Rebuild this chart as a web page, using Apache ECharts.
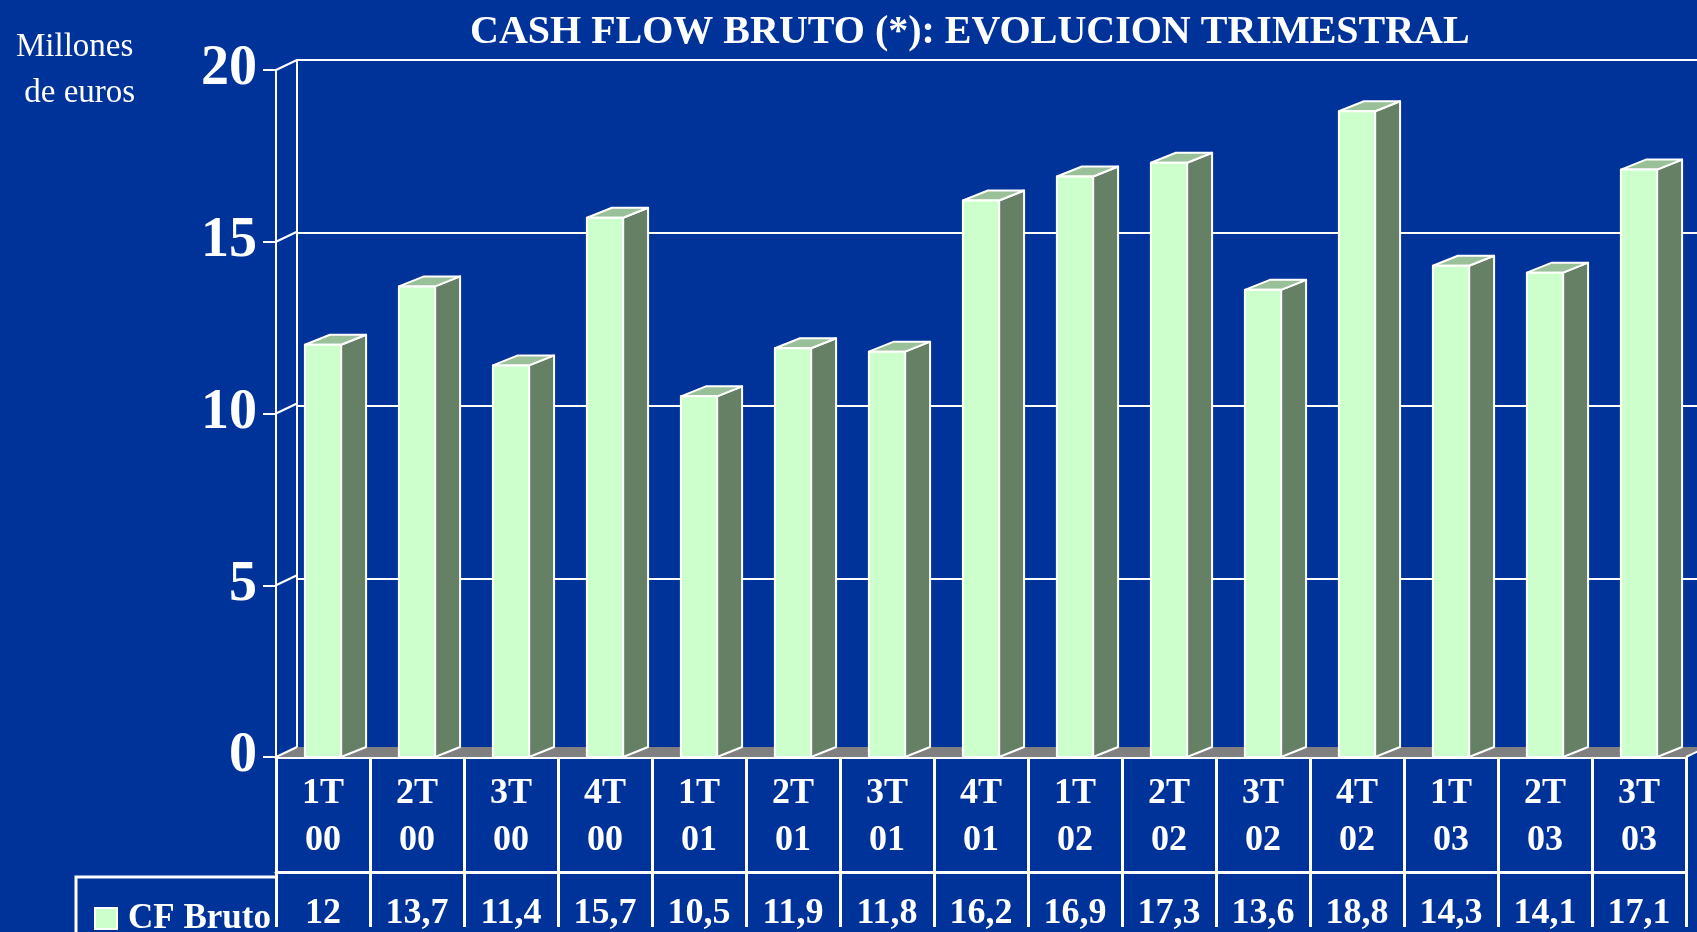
<!DOCTYPE html>
<html>
<head>
<meta charset="utf-8">
<script src="https://cdn.jsdelivr.net/npm/echarts@6/dist/echarts.min.js"></script>
<style>
html,body{margin:0;padding:0;background:#003399;}
#main{width:1697px;height:932px;}
</style>
</head>
<body>
<div id="main"></div>
<script>
const categories = ['1T\n00','2T\n00','3T\n00','4T\n00','1T\n01','2T\n01','3T\n01','4T\n01','1T\n02','2T\n02','3T\n02','4T\n02','1T\n03','2T\n03','3T\n03'];
const cfBruto = [12, 13.7, 11.4, 15.7, 10.5, 11.9, 11.8, 16.2, 16.9, 17.3, 13.6, 18.8, 14.3, 14.1, 17.1];
const yTicks = [0, 5, 10, 15, 20];
const valueLabels = cfBruto.map(v => String(v).replace('.', ','));

const FONT = "'Liberation Serif','Times New Roman',serif";
const WALL_DX = 21, WALL_DY = 10;
const BAR_DX = 25, BAR_DY = 10;
const BAR_FRAC = 0.385;

const chart = echarts.init(document.getElementById('main'), null, {renderer: 'canvas'});

function bandEdges(api) {
  const bw = api.size([1, 0])[0];
  const l = api.coord([0, 0])[0] - bw / 2;
  const r = api.coord([categories.length - 1, 0])[0] + bw / 2;
  return {l, r, bw};
}

const option = {
  backgroundColor: '#003399',
  animation: false,
  title: [
    {
      text: 'CASH FLOW BRUTO (*): EVOLUCION TRIMESTRAL',
      left: 465, top: 8,
      textStyle: {color: '#fff', fontFamily: FONT, fontWeight: 'bold', fontSize: 40, lineHeight: 40}
    },
    {
      text: 'Millones\n de euros',
      left: 11, top: 19,
      textStyle: {color: '#fff', fontFamily: FONT, fontWeight: 'normal', fontSize: 33, lineHeight: 46}
    }
  ],
  legend: {
    data: [{name: 'CF Bruto', icon: 'rect'}],
    left: 89, top: 896,
    itemWidth: 22, itemHeight: 21,
    selectedMode: false,
    itemStyle: {color: '#CCFFCC', borderColor: '#ffffff', borderWidth: 2},
    textStyle: {color: '#fff', fontFamily: FONT, fontWeight: 'bold', fontSize: 35, padding: [0, 0, 0, 6]}
  },
  grid: [
    {left: 276, top: 70, width: 1410, height: 692},
    {left: 297, top: 60, width: 1410, height: 692}
  ],
  xAxis: [
    {
      type: 'category', gridIndex: 0, data: categories, position: 'bottom',
      axisLine: {show: true, lineStyle: {color: '#fff', width: 3}},
      axisTick: {show: true, inside: false, length: 170, interval: 0, lineStyle: {color: '#fff', width: 3}},
      axisLabel: {show: true, interval: 0, color: '#fff', fontFamily: FONT, fontWeight: 'bold', fontSize: 36, lineHeight: 47, margin: 13},
      splitLine: {show: false}
    },
    {
      type: 'category', gridIndex: 0, data: valueLabels, position: 'bottom',
      axisLine: {show: false}, axisTick: {show: false},
      axisLabel: {show: true, interval: 0, color: '#fff', fontFamily: FONT, fontWeight: 'bold', fontSize: 36, margin: 139},
      splitLine: {show: false}
    },
    {
      type: 'category', gridIndex: 0, data: categories, position: 'bottom', offset: 115,
      axisLine: {show: true, lineStyle: {color: '#fff', width: 3}},
      axisTick: {show: false}, axisLabel: {show: false}, splitLine: {show: false}
    },
    {
      type: 'category', gridIndex: 1, data: categories, show: false
    }
  ],
  yAxis: [
    {
      type: 'value', gridIndex: 0, min: 0, max: 20, interval: 5,
      axisLine: {show: true, lineStyle: {color: '#fff', width: 2}},
      axisTick: {show: true, inside: false, length: 13, lineStyle: {color: '#fff', width: 2}},
      axisLabel: {show: true, color: '#fff', fontFamily: FONT, fontWeight: 'bold', fontSize: 56, margin: 19},
      splitLine: {show: false}
    },
    {
      type: 'value', gridIndex: 1, min: 0, max: 20, interval: 5,
      axisLine: {show: true, lineStyle: {color: '#fff', width: 2}},
      axisTick: {show: false}, axisLabel: {show: false},
      splitLine: {show: true, lineStyle: {color: '#fff', width: 2, type: 'solid'}}
    }
  ],
  graphic: [
    {
      type: 'polyline', z: 10,
      shape: {points: [[76, 932], [76, 877], [276, 877]]},
      style: {stroke: '#fff', lineWidth: 3, fill: null}
    }
  ],
  series: [
    {
      name: 'floor', type: 'custom', xAxisIndex: 0, yAxisIndex: 0, z: 1,
      silent: true, data: [[0, 0]],
      renderItem: function (params, api) {
        const e = bandEdges(api);
        const y = api.coord([0, 0])[1];
        return {
          type: 'group',
          children: [
            {type: 'polygon', shape: {points: [[e.l, y], [e.r, y], [e.r + WALL_DX, y - WALL_DY], [e.l + WALL_DX, y - WALL_DY]]},
             style: {fill: '#808080', stroke: null}},
            {type: 'line', shape: {x1: e.r, y1: y, x2: e.r + WALL_DX, y2: y - WALL_DY}, style: {stroke: '#fff', lineWidth: 2}}
          ]
        };
      }
    },
    {
      name: 'wallTicks', type: 'custom', xAxisIndex: 0, yAxisIndex: 0, z: 3,
      silent: true, data: yTicks.map(v => [0, v]),
      renderItem: function (params, api) {
        const e = bandEdges(api);
        const y = api.coord([0, api.value(1)])[1];
        return {type: 'line', shape: {x1: e.l, y1: y, x2: e.l + WALL_DX, y2: y - WALL_DY},
                style: {stroke: '#fff', lineWidth: 2}};
      }
    },
    {
      name: 'CF Bruto', type: 'custom', xAxisIndex: 0, yAxisIndex: 0, z: 5,
      itemStyle: {color: '#CCFFCC'},
      data: cfBruto.map((v, i) => [i, v]),
      renderItem: function (params, api) {
        const i = api.value(0), v = api.value(1);
        const top = api.coord([i, v]);
        const base = api.coord([i, 0]);
        const w = api.size([1, 0])[0] * BAR_FRAC;
        const x = top[0] - w / 2;
        const yt = top[1], yb = base[1];
        const st = {stroke: '#fff', lineWidth: 2, lineJoin: 'round'};
        return {
          type: 'group',
          children: [
            {type: 'polygon', shape: {points: [[x + w, yt], [x + w + BAR_DX, yt - BAR_DY], [x + w + BAR_DX, yb - BAR_DY], [x + w, yb]]},
             style: Object.assign({fill: '#668066'}, st)},
            {type: 'polygon', shape: {points: [[x, yt], [x + BAR_DX, yt - BAR_DY], [x + w + BAR_DX, yt - BAR_DY], [x + w, yt]]},
             style: Object.assign({fill: '#99C099'}, st)},
            {type: 'rect', shape: {x: x, y: yt, width: w, height: yb - yt},
             style: Object.assign({fill: '#CCFFCC'}, st)}
          ]
        };
      }
    }
  ]
};
chart.setOption(option);
</script>
</body>
</html>
